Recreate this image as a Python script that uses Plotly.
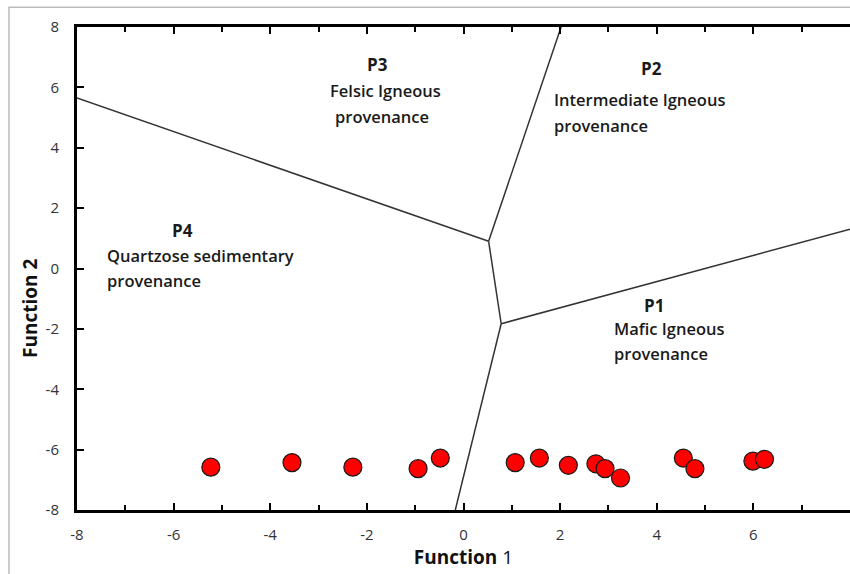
import plotly.graph_objects as go

# discriminant function scores of the samples
func1 = [-5.23, -3.55, -2.29, -0.94, -0.48, 1.07, 1.57, 2.17, 2.74, 2.93, 3.25, 4.55, 4.79, 5.99, 6.23]
func2 = [-6.58, -6.43, -6.58, -6.63, -6.28, -6.43, -6.28, -6.52, -6.47, -6.63, -6.94, -6.28, -6.63, -6.38, -6.32]

# field boundaries of the provenance diagram
bound_p4p3_x = [-8, 0.52]
bound_p4p3_y = [5.65, 0.9]
bound_p3p2_x = [0.52, 2.02]
bound_p3p2_y = [0.9, 8]
bound_mid_x = [0.52, 0.78]
bound_mid_y = [0.9, -1.83]
bound_p1p2_x = [0.78, 8]
bound_p1p2_y = [-1.83, 1.3]
bound_p4p1_x = [0.78, -0.17]
bound_p4p1_y = [-1.83, -8]

tick_vals = [-8, -6, -4, -2, 0, 2, 4, 6, 8]
tick_text = ["-8", "-6", "-4", "-2", "0", "2", "4", "6", "8"]

FONT = "Open Sans"

fig = go.Figure()

for bx, by in [(bound_p4p3_x, bound_p4p3_y), (bound_p3p2_x, bound_p3p2_y),
               (bound_mid_x, bound_mid_y), (bound_p1p2_x, bound_p1p2_y),
               (bound_p4p1_x, bound_p4p1_y)]:
    fig.add_trace(go.Scatter(x=bx, y=by, mode="lines",
                             line=dict(color="#333333", width=1.5),
                             hoverinfo="skip", showlegend=False))

fig.add_trace(go.Scatter(x=func1, y=func2, mode="markers",
                         marker=dict(size=18, color="#ff0000",
                                     line=dict(color="#1a1a1a", width=1.2)),
                         showlegend=False))

# (text, x, y, anchor, bold)
labels = [
    ("P3", -1.78, 6.75, "center", True),
    ("Felsic Igneous", -1.61, 5.89, "center", False),
    ("provenance", -1.69, 5.03, "center", False),
    ("P2", 3.90, 6.62, "center", True),
    ("Intermediate Igneous", 1.84, 5.60, "left", False),
    ("provenance", 1.84, 4.74, "left", False),
    ("P4", -5.81, 1.26, "center", True),
    ("Quartzose sedimentary", -7.42, 0.43, "left", False),
    ("provenance", -7.42, -0.40, "left", False),
    ("P1", 3.95, -1.23, "center", True),
    ("Mafic Igneous", 3.08, -1.99, "left", False),
    ("provenance", 3.08, -2.81, "left", False),
]
for t, lx, ly, anc, bold in labels:
    fig.add_annotation(x=lx, y=ly, text=t,
                       xanchor=anc, yanchor="middle", showarrow=False,
                       font=dict(family=FONT, size=17 if bold else 16.5, color="#1a1a1a",
                                 weight=700 if bold else 600))

fig.add_annotation(xref="paper", yref="paper", x=-0.061, y=0.418,
                   xanchor="center", yanchor="middle",
                   text="<b>Function 2</b>", textangle=-90, showarrow=False,
                   font=dict(family=FONT, size=19, color="#111111"))

# outer chart border
fig.add_shape(type="rect", xref="paper", yref="paper",
              x0=-0.088, x1=1.2, y0=-0.3, y1=1.041,
              line=dict(color="#bbbbbb", width=1.5), layer="below")

axis_common = dict(
    showgrid=False, zeroline=False, showline=True, linecolor="black",
    linewidth=3, ticks="inside", tickcolor="black", tickwidth=1.5,
    tickfont=dict(family=FONT, size=15, color="#333333"),
    range=[-8, 8], tickvals=tick_vals, ticktext=tick_text,
)

fig.update_xaxes(**axis_common, ticklen=7, mirror="allticks",
                 minor=dict(ticks="inside", ticklen=5, dtick=1, tickcolor="black",
                            tickwidth=1.5, showgrid=False),
                 ticklabelstandoff=9,
                 title=dict(text="<b>Function</b> 1", standoff=6,
                            font=dict(family=FONT, size=19, color="#111111")))
fig.update_yaxes(**axis_common, ticklen=7, ticklabelstandoff=12)

fig.update_layout(
    width=850, height=574,
    margin=dict(l=77, r=0, t=27, b=64),
    plot_bgcolor="white", paper_bgcolor="white",
)

fig.write_html("out.html", config={"displayModeBar": False},
               post_script="document.body.style.margin='0';")
